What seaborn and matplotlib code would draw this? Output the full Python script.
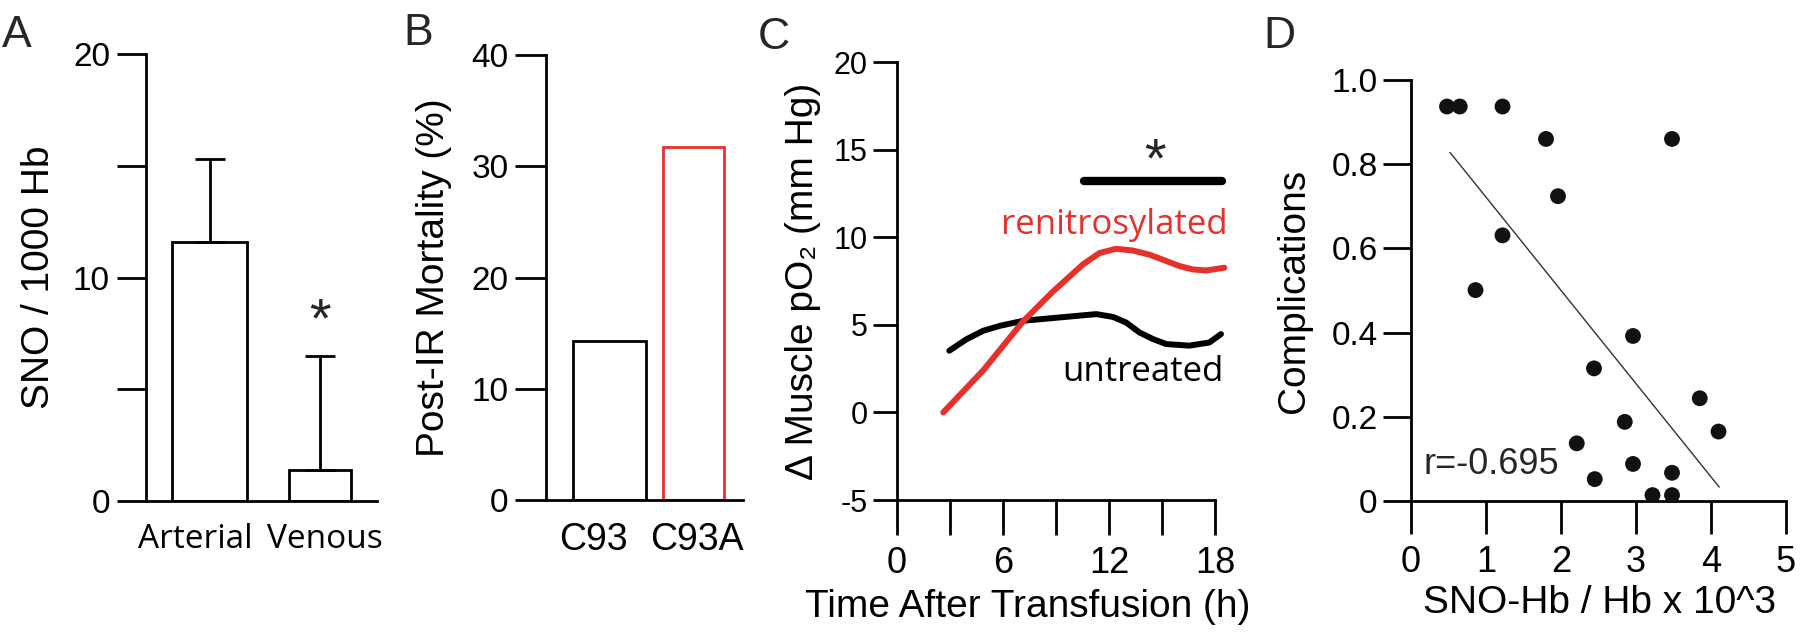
import numpy as np
import pandas as pd
import matplotlib
matplotlib.use("Agg")
import matplotlib.pyplot as plt
import seaborn as sns

# -----------------------------
# Data
# -----------------------------
# A: SNO per 1000 Hb
a_cats = ["Arterial", "Venous"]
a_vals = [11.6, 1.4]
a_err_up = [3.7, 5.1]
a_star = 8.8

# B: post-IR mortality
b_cats = ["C93", "C93A"]
b_vals = [14.3, 31.7]

# C: change in muscle pO2 over time
t_red = [2.62, 4.88, 7.14, 8.83, 10.53, 11.47, 12.41, 13.35, 14.3, 15.24,
         16.0, 16.74, 17.5, 18.53]
v_red = [0.0, 2.4, 5.2, 6.9, 8.45, 9.1, 9.34, 9.24, 9.0, 8.64,
         8.35, 8.16, 8.1, 8.26]
t_black = [2.96, 3.94, 4.88, 5.82, 7.14, 9.21, 11.28, 12.22, 12.97, 13.73,
           14.48, 15.24, 16.55, 17.68, 18.34]
v_black = [3.52, 4.18, 4.66, 4.94, 5.23, 5.42, 5.61, 5.45, 5.13, 4.56,
           4.19, 3.90, 3.81, 3.99, 4.47]
sig_x = [10.6, 18.4]
sig_y = [13.2, 13.2]
c_star = (14.6, 15.3)

# D: complications vs SNO-Hb
d_x = [0.48, 0.65, 1.22, 1.80, 3.48, 1.96, 1.22, 0.86, 2.96, 2.44,
       3.85, 2.85, 4.10, 2.21, 2.96, 3.48, 2.45, 3.22, 3.48]
d_y = [0.937, 0.937, 0.937, 0.860, 0.860, 0.724, 0.631, 0.501, 0.392, 0.315,
       0.244, 0.188, 0.165, 0.137, 0.088, 0.067, 0.052, 0.014, 0.014]
fit_x = [0.52, 4.11]
fit_y = [0.828, 0.033]
r_text = "r=-0.695"

RED = "#e5312a"
W, H = 1800, 634

sns.set_theme(style="ticks")
plt.rcParams["font.family"] = ["Liberation Sans", "DejaVu Sans"]
plt.rcParams["axes.unicode_minus"] = False
plt.rcParams["axes.linewidth"] = 2.0
plt.rcParams["xtick.major.width"] = 2.0
plt.rcParams["ytick.major.width"] = 2.0
plt.rcParams["axes.edgecolor"] = "black"
plt.rcParams["xtick.color"] = "black"
plt.rcParams["ytick.color"] = "black"
plt.rcParams["axes.labelcolor"] = "black"

fig = plt.figure(figsize=(18, 6.34), dpi=100)


def px_axes(left, right, top, bottom):
    """Add axes from pixel edges (top-left origin)."""
    return fig.add_axes([left / W, 1 - bottom / H, (right - left) / W, (bottom - top) / H])


def style_axes(ax):
    sns.despine(ax=ax)
    ax.set_facecolor("white")


def ylabel_at(ax, text, xfrac, size=28):
    ax.set_ylabel(text, fontsize=size)
    ax.yaxis.label.set_va("center")
    ax.yaxis.set_label_coords(xfrac, 0.5)


def star(ax, xy):
    ax.annotate("*", xy=xy, xytext=(0, -23), textcoords="offset points",
                ha="center", va="baseline", fontsize=40)


# -----------------------------
# Panel A
# -----------------------------
axA = px_axes(146, 377, 54, 501)
for cat, val, w in zip(a_cats, a_vals, [0.68, 0.56]):
    sns.barplot(x=[cat], y=[val], order=a_cats, width=w, color="white", saturation=1,
                edgecolor="black", linewidth=2, errorbar=None, ax=axA)
axA.errorbar([0, 1], a_vals, yerr=[[0, 0], a_err_up], fmt="none", ecolor="black",
             elinewidth=2, capsize=11, capthick=2)
star(axA, (1, a_star))
axA.set_xlim(-0.575, 1.516)
axA.set_ylim(0, 20)
axA.set_yticks([0, 5, 10, 15, 20])
axA.set_yticklabels(["0", "", "10", "", "20"])
# category labels sit a little off the bar centres in the original
axA.set_xticks(np.arange(len(a_cats)) + np.array([-0.13, 0.045]), a_cats)
axA.tick_params(axis="y", length=21, labelsize=24, pad=5)
axA.tick_params(axis="x", length=0, pad=16)
for lab in axA.get_xticklabels():
    lab.set_fontfamily("Open Sans")
    lab.set_fontsize(24)
axA.set_xlabel("")
ylabel_at(axA, "SNO / 1000 Hb", -0.463)
style_axes(axA)

# -----------------------------
# Panel B
# -----------------------------
axB = px_axes(546, 743, 55, 500)
for cat, val, w, col in zip(b_cats, b_vals, [0.87, 0.73], ["black", RED]):
    sns.barplot(x=[cat], y=[val], order=b_cats, width=w, color="white", saturation=1,
                edgecolor=col, linewidth=2, errorbar=None, ax=axB)
axB.set_xlim(-0.756, 1.589)
axB.set_ylim(0, 40)
axB.set_yticks([0, 10, 20, 30, 40])
axB.set_xticks(np.arange(len(b_cats)) + np.array([-0.19, 0.04]), b_cats)
axB.tick_params(axis="y", length=22, labelsize=24, pad=5)
axB.tick_params(axis="x", length=0, labelsize=27, pad=16)
axB.set_xlabel("")
ylabel_at(axB, "Post-IR Mortality (%)", -0.569)
style_axes(axB)

# -----------------------------
# Panel C
# -----------------------------
axC = px_axes(897, 1215, 62, 500)
sns.lineplot(x=t_black, y=v_black, color="black", linewidth=4.3, sort=False,
             clip_on=False, ax=axC)
sns.lineplot(x=t_red, y=v_red, color=RED, linewidth=4.3, sort=False,
             clip_on=False, ax=axC)
sns.lineplot(x=sig_x, y=sig_y, color="black", linewidth=6, clip_on=False, ax=axC)
star(axC, c_star)
axC.text(18.7, 10.2, "renitrosylated", color=RED, ha="right", va="baseline",
         fontsize=25, family="Open Sans")
axC.text(18.5, 1.8, "untreated", color="black", ha="right", va="baseline",
         fontsize=25, family="Open Sans")
axC.set_xlim(0, 18)
axC.set_ylim(-5, 20)
axC.set_xticks(np.arange(0, 19, 3))
axC.set_xticklabels(["0", "", "6", "", "12", "", "18"])
axC.set_yticks([-5, 0, 5, 10, 15, 20])
axC.tick_params(axis="y", length=17, labelsize=22, pad=4)
axC.tick_params(axis="x", length=25, labelsize=26, pad=8)
ylabel_at(axC, "Δ Muscle pO₂ (mm Hg)", -0.296)
axC.set_xlabel("Time After Transfusion (h)", fontsize=28)
axC.xaxis.label.set_va("center")
axC.xaxis.set_label_coords(0.412, -0.244)
style_axes(axC)

# -----------------------------
# Panel D
# -----------------------------
axD = px_axes(1411, 1786, 80, 501)
sns.lineplot(x=fit_x, y=fit_y, color="#333333", linewidth=1.0, ax=axD)
sns.scatterplot(x=d_x, y=d_y, s=130, color="#111111", edgecolor="none",
                clip_on=False, zorder=3, ax=axD)
axD.text(0.16, 0.086, r_text, ha="left", va="center", fontsize=26,
         family=["Liberation Sans Narrow", "Liberation Sans"])
axD.set_xlim(0, 5)
axD.set_ylim(0, 1.0)
axD.set_xticks([0, 1, 2, 3, 4, 5])
axD.set_yticks([0, 0.2, 0.4, 0.6, 0.8, 1.0])
axD.set_yticklabels(["0", "0.2", "0.4", "0.6", "0.8", "1.0"])
axD.tick_params(axis="y", length=20, labelsize=24, pad=4)
axD.tick_params(axis="x", length=24, labelsize=26, pad=8)
ylabel_at(axD, "Complications", -0.312)
axD.set_xlabel("SNO-Hb / Hb x 10^3", fontsize=28)
axD.xaxis.label.set_va("center")
axD.xaxis.set_label_coords(0.504, -0.242)
style_axes(axD)

# panel letters
for letter, x, y in [("A", 2, 47), ("B", 403, 45), ("C", 758, 49), ("D", 1263, 48)]:
    fig.text(x / W, 1 - y / H, letter, fontsize=32, ha="left", va="baseline")

fig.savefig("out.png", dpi=100, facecolor="white")
